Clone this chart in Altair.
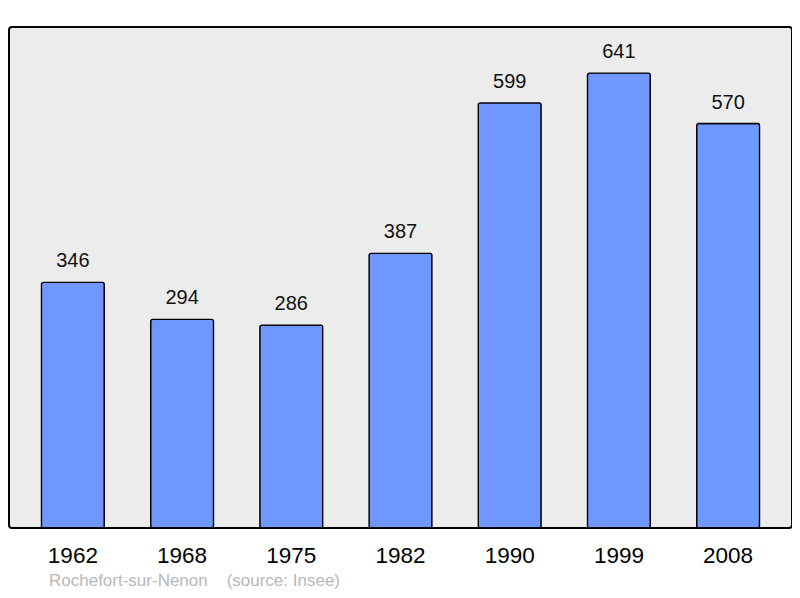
import altair as alt
import pandas as pd

years = ["1962", "1968", "1975", "1982", "1990", "1999", "2008"]
population = [346, 294, 286, 387, 599, 641, 570]

data = pd.DataFrame({"year": years, "pop": population})

FONT = "Liberation Sans"
NBSP = "\u00a0"

base = alt.Chart(data).encode(
    x=alt.X("year:N", sort=years, title=None,
            scale=alt.Scale(paddingInner=0.424, paddingOuter=0.297),
            axis=alt.Axis(labelAngle=0, labelFontSize=22.5, labelPadding=16,
                          labelColor="black", labelFont=FONT,
                          ticks=False, domain=False, grid=False)),
    y=alt.Y("pop:Q", title=None, scale=alt.Scale(domain=[0, 706], nice=False),
            axis=None),
)

bars = base.mark_bar(color="#7097ff", stroke="black", strokeWidth=1.3,
                     cornerRadius=2)

labels = base.mark_text(baseline="bottom", dy=-11, fontSize=20,
                        font=FONT, color="#111").encode(text="pop:Q")

chart = (bars + labels).properties(
    width=783,
    height=501,
    padding={"left": 1, "top": 19, "right": 0, "bottom": 62},
    autosize=alt.AutoSizeParams(type="none"),
    title=alt.TitleParams(
        "Rochefort-sur-Nenon" + NBSP * 4 + "(source: Insee)",
        orient="bottom", anchor="start", dx=40, offset=6,
        fontSize=17, fontWeight="normal", color="#b8b8b8", font=FONT,
    ),
).configure_view(
    fill="#ececec", stroke="black", strokeWidth=2, cornerRadius=3
)

chart.save("out.html", embed_options={"renderer": "svg", "actions": False})
